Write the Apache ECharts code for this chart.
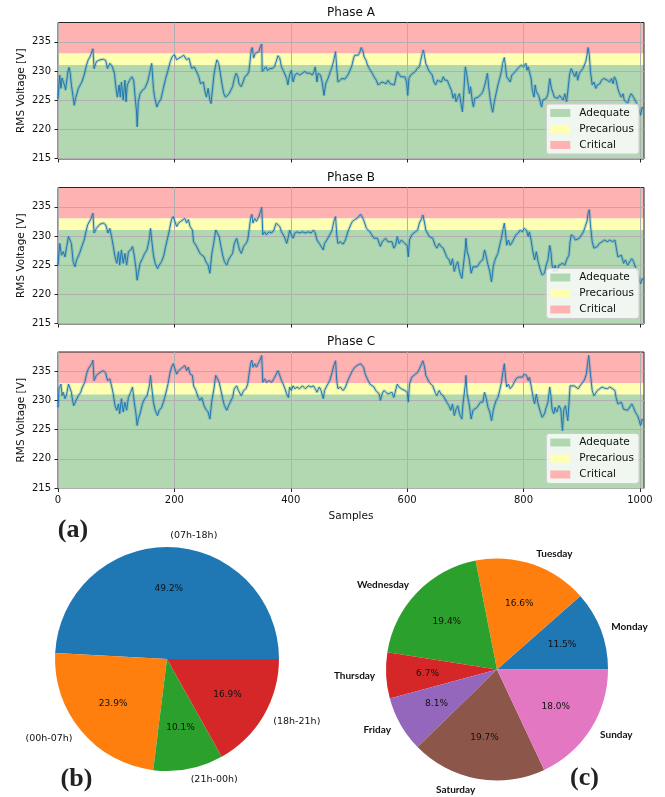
<!DOCTYPE html>
<html><head><meta charset="utf-8">
<script src="https://cdn.jsdelivr.net/npm/echarts@6/dist/echarts.min.js"></script>
<style>html,body{margin:0;padding:0;background:#fff}#c{width:665px;height:797px}</style>
</head><body><div id="c"></div>
<script>
const phaseTitles = ['Phase A', 'Phase B', 'Phase C'];
const phaseA = [[0,225.2],[3,229.3],[5,227.0],[7,228.8],[11,227.6],[13,226.7],[17,229.9],[19,230.6],[21,229.6],[23,227.6],[26,225.5],[28,224.1],[30,225.2],[35,227.0],[41,228.1],[45,229.3],[49,231.0],[52,231.9],[55,232.4],[58,232.2],[60,233.8],[62,230.4],[66,231.6],[72,231.9],[78,232.0],[82,231.8],[85,230.4],[89,231.3],[93,230.8],[97,229.6],[99,227.6],[102,225.5],[105,227.6],[107,225.5],[109,228.1],[112,225.0],[115,228.4],[117,224.7],[119,227.6],[123,228.4],[127,229.0],[130,228.4],[132,226.1],[135,223.0],[136,220.4],[138,224.7],[141,226.1],[145,226.7],[149,227.0],[154,228.1],[158,229.9],[161,231.3],[162,229.9],[164,227.0],[166,225.5],[170,223.8],[172,224.4],[177,225.2],[181,227.0],[185,228.7],[189,230.1],[193,231.6],[196,232.4],[200,232.8],[204,231.9],[208,232.2],[212,232.4],[216,232.7],[219,232.8],[221,231.9],[225,232.2],[228,231.0],[230,230.4],[234,230.7],[237,230.1],[242,229.0],[245,227.8],[247,227.6],[250,228.1],[252,226.7],[255,225.5],[258,227.0],[261,225.0],[263,224.4],[265,226.4],[268,229.3],[271,231.0],[273,231.9],[276,231.3],[279,229.6],[282,227.6],[285,226.1],[288,225.5],[291,225.3],[294,226.1],[297,226.4],[300,227.3],[303,228.7],[306,229.6],[309,229.0],[311,227.8],[315,227.3],[318,228.1],[321,229.0],[325,229.3],[328,229.9],[330,231.6],[332,233.6],[334,234.0],[336,232.2],[339,233.0],[342,232.7],[345,233.3],[348,234.2],[350,234.6],[351,229.9],[354,230.1],[357,230.7],[360,230.1],[364,230.4],[368,230.4],[372,230.7],[375,231.6],[378,232.6],[381,232.2],[384,230.7],[387,230.1],[390,229.9],[393,228.7],[395,227.6],[398,229.3],[401,230.1],[404,228.1],[407,229.3],[411,229.6],[415,229.3],[420,229.6],[424,229.9],[428,229.6],[433,229.6],[437,229.3],[440,229.9],[442,230.7],[445,228.1],[447,229.6],[451,229.3],[454,228.1],[457,225.8],[460,227.8],[464,228.7],[468,229.9],[471,230.7],[474,231.9],[477,233.3],[479,230.4],[481,228.1],[484,228.4],[488,228.7],[493,228.6],[498,229.3],[501,229.9],[505,230.9],[508,232.2],[510,232.7],[513,233.0],[516,232.7],[519,233.3],[521,234.0],[524,233.4],[526,232.4],[529,231.9],[532,231.0],[535,230.4],[538,230.1],[540,229.6],[543,229.0],[547,228.4],[550,227.6],[553,227.3],[557,228.1],[560,228.4],[564,227.8],[567,228.4],[571,227.8],[574,227.8],[578,227.6],[581,227.3],[583,229.9],[586,230.1],[589,229.0],[592,229.3],[596,229.0],[599,228.1],[601,225.8],[603,228.7],[606,229.3],[610,229.6],[614,229.9],[617,230.4],[621,230.7],[623,231.6],[626,233.0],[628,233.6],[630,232.4],[632,231.3],[635,231.6],[637,230.1],[640,229.9],[643,229.3],[646,228.1],[649,227.6],[652,228.4],[655,228.7],[659,228.1],[662,229.0],[665,228.4],[669,228.4],[672,227.6],[676,226.7],[679,225.3],[682,226.1],[684,224.7],[687,225.5],[690,226.1],[693,224.1],[695,223.0],[697,225.8],[699,229.3],[700,230.7],[702,229.6],[705,227.6],[707,226.1],[709,227.3],[712,224.7],[714,223.8],[716,225.3],[719,225.0],[722,225.5],[725,225.8],[728,226.1],[731,226.7],[734,227.8],[736,227.6],[738,229.6],[740,227.3],[743,225.0],[745,223.8],[747,222.9],[750,224.8],[753,226.2],[756,227.6],[759,228.7],[762,229.9],[764,231.3],[767,232.3],[769,230.7],[771,229.0],[774,229.3],[777,228.1],[780,229.3],[783,229.6],[786,229.9],[790,230.4],[793,230.7],[796,231.0],[800,230.7],[804,231.3],[806,230.1],[808,230.7],[810,229.9],[813,228.7],[815,226.7],[818,225.5],[820,227.6],[822,226.4],[824,226.1],[826,225.8],[829,225.5],[831,223.8],[833,225.0],[836,224.7],[839,225.3],[842,226.1],[845,228.7],[848,227.0],[851,226.1],[853,225.5],[856,225.8],[859,225.3],[862,225.8],[865,225.5],[868,225.0],[871,226.1],[874,224.7],[876,226.4],[879,229.3],[882,230.4],[885,230.1],[888,229.0],[891,229.9],[893,228.4],[896,229.6],[899,229.9],[902,230.4],[905,230.7],[907,231.6],[909,232.7],[911,234.0],[913,232.7],[915,229.9],[918,227.6],[921,228.1],[924,227.0],[927,227.6],[931,227.8],[934,228.4],[938,228.7],[941,228.4],[944,228.4],[948,228.1],[951,228.7],[954,227.8],[956,229.0],[959,228.4],[962,227.0],[965,226.1],[968,225.5],[971,226.1],[973,225.0],[976,225.3],[979,224.4],[982,225.5],[985,226.1],[987,225.8],[990,225.3],[993,224.7],[996,224.1],[999,223.2],[1001,222.4],[1004,223.8],[1006,223.5]];
const phaseB = [[0,225.0],[3,228.7],[6,226.7],[9,227.3],[12,226.4],[15,228.2],[18,229.9],[21,230.2],[23,228.7],[26,225.6],[29,224.7],[32,225.9],[37,227.0],[41,228.2],[45,229.3],[48,230.7],[51,231.9],[54,232.2],[57,233.0],[60,233.9],[62,230.5],[66,231.3],[72,232.0],[78,232.2],[82,231.9],[86,230.5],[89,231.3],[92,229.9],[95,228.2],[98,226.4],[101,225.3],[104,227.3],[106,225.0],[109,227.6],[112,225.3],[115,227.0],[118,225.0],[121,227.3],[125,227.6],[128,228.2],[131,226.7],[134,224.4],[136,222.4],[138,223.6],[141,225.3],[145,226.1],[149,227.0],[153,227.6],[157,229.6],[159,231.3],[161,229.3],[164,226.7],[167,225.3],[171,224.4],[174,225.0],[178,225.6],[182,226.7],[185,228.2],[189,229.9],[192,231.3],[195,232.8],[198,233.3],[201,233.0],[204,231.6],[207,232.2],[211,232.5],[214,232.2],[218,233.0],[221,232.2],[224,232.8],[227,231.6],[231,231.0],[233,229.0],[237,228.4],[241,227.6],[244,227.0],[247,227.3],[251,226.4],[254,225.6],[258,225.0],[261,223.6],[264,226.7],[268,229.0],[271,231.0],[274,231.3],[277,229.9],[280,228.2],[283,226.7],[286,225.6],[290,225.0],[293,225.9],[296,226.4],[300,227.0],[303,228.7],[307,229.6],[310,228.4],[312,227.6],[315,227.0],[319,228.2],[323,228.7],[326,229.3],[328,230.7],[331,233.0],[333,233.7],[335,232.2],[338,233.0],[341,232.5],[345,233.3],[348,234.2],[350,234.9],[352,230.2],[355,230.7],[358,230.2],[363,230.7],[367,230.5],[371,231.0],[375,232.2],[378,232.5],[381,231.6],[384,230.7],[387,230.2],[390,229.6],[393,228.7],[396,229.9],[398,231.0],[401,230.2],[404,229.6],[407,230.5],[411,230.7],[415,230.5],[420,230.7],[425,230.5],[430,230.7],[435,230.5],[439,231.0],[442,230.5],[445,229.3],[449,228.7],[452,229.0],[456,227.6],[458,228.7],[462,229.3],[467,230.2],[471,231.0],[474,232.5],[477,233.3],[479,230.2],[481,228.7],[485,229.0],[490,228.6],[494,229.3],[498,230.7],[503,231.9],[506,232.5],[510,232.8],[514,233.0],[517,233.0],[520,233.7],[522,233.9],[525,232.8],[528,231.9],[530,231.3],[533,231.0],[536,230.7],[539,230.2],[543,229.6],[546,229.3],[549,229.6],[552,228.7],[554,228.2],[557,229.0],[560,229.3],[563,229.6],[567,229.0],[570,228.7],[574,229.0],[577,227.9],[580,228.4],[583,229.9],[586,228.7],[590,229.3],[593,229.0],[596,228.7],[600,228.4],[602,226.4],[604,229.3],[608,230.2],[611,230.5],[614,230.7],[618,231.0],[621,232.2],[625,233.0],[627,233.6],[630,232.2],[632,231.0],[635,231.3],[638,229.9],[641,230.2],[644,229.6],[648,228.4],[651,227.9],[655,228.7],[658,228.2],[662,227.9],[665,228.2],[668,226.4],[672,225.9],[675,225.0],[678,226.1],[681,223.9],[684,225.0],[687,225.6],[690,223.9],[694,222.7],[696,224.4],[700,227.9],[701,229.6],[703,227.3],[706,226.4],[708,225.0],[710,223.6],[713,224.7],[716,224.4],[720,224.7],[723,225.0],[726,225.6],[730,225.9],[733,227.6],[736,226.4],[739,225.0],[742,223.9],[745,222.1],[748,224.7],[750,225.6],[753,226.4],[756,227.0],[759,228.4],[762,229.6],[765,231.3],[767,232.2],[769,230.5],[771,228.4],[774,229.3],[777,228.4],[781,229.0],[784,229.6],[787,230.2],[791,230.5],[794,231.0],[798,230.7],[801,231.3],[805,231.0],[808,229.9],[810,230.7],[813,229.3],[816,227.3],[819,225.9],[822,227.3],[825,225.6],[829,224.1],[832,223.3],[836,223.6],[839,225.0],[842,225.9],[845,228.4],[847,227.3],[849,225.0],[852,223.9],[854,225.0],[857,223.9],[861,225.0],[864,224.7],[867,225.3],[871,225.0],[874,225.9],[878,226.7],[880,229.0],[882,230.2],[886,229.9],[889,229.3],[892,229.0],[896,229.6],[899,229.9],[903,230.7],[906,231.6],[909,232.5],[911,233.9],[913,234.5],[915,231.9],[918,229.0],[921,227.9],[924,227.6],[927,228.2],[930,228.7],[935,229.0],[939,229.3],[944,229.0],[948,229.3],[953,229.0],[957,229.3],[959,228.2],[962,226.4],[965,226.1],[968,226.7],[972,225.3],[975,225.9],[979,225.0],[982,225.0],[986,226.1],[989,225.6],[992,224.7],[996,223.9],[999,222.4],[1001,221.8],[1004,222.7],[1006,222.4]];
const phaseC = [[0,228.8],[2,232.0],[5,232.8],[7,230.8],[9,231.4],[12,230.3],[15,231.1],[18,232.8],[21,233.1],[23,231.4],[25,230.0],[27,229.1],[31,230.0],[35,230.8],[39,231.4],[42,232.3],[46,233.1],[49,234.5],[52,235.4],[55,235.7],[58,236.3],[60,236.9],[62,233.4],[66,234.3],[72,234.8],[78,235.1],[82,234.7],[85,233.4],[89,233.7],[92,232.5],[95,231.1],[98,229.1],[101,228.3],[104,229.4],[106,227.7],[109,230.3],[112,228.0],[115,229.7],[118,228.3],[121,230.5],[125,231.4],[128,232.3],[131,229.7],[134,227.7],[136,225.7],[138,226.8],[141,227.7],[145,229.4],[149,230.3],[153,230.8],[157,232.5],[159,234.3],[161,232.3],[164,229.7],[167,228.3],[171,227.4],[174,228.3],[178,228.8],[182,230.0],[185,231.1],[189,232.8],[192,234.5],[195,235.7],[198,236.3],[201,235.4],[204,234.5],[207,235.1],[211,235.4],[214,235.1],[218,236.0],[221,235.1],[224,235.7],[227,234.5],[231,234.3],[233,232.5],[237,231.7],[241,230.5],[244,230.0],[247,230.5],[251,229.1],[254,228.5],[258,228.0],[261,226.8],[264,229.7],[268,232.0],[271,234.3],[274,234.5],[277,233.1],[280,231.7],[283,230.3],[286,229.1],[290,228.3],[293,229.1],[296,229.7],[300,230.5],[303,232.0],[307,232.5],[310,231.7],[312,231.4],[315,230.8],[319,231.7],[323,232.0],[326,232.8],[328,234.3],[331,236.3],[333,236.9],[335,235.7],[338,236.3],[341,235.7],[345,236.5],[348,237.1],[350,237.7],[352,233.1],[355,233.7],[358,233.1],[363,233.4],[367,233.1],[371,233.7],[375,234.5],[378,235.1],[381,234.3],[384,233.4],[387,232.8],[390,232.0],[393,231.1],[396,230.5],[398,232.3],[401,231.7],[404,232.5],[407,232.0],[411,232.3],[415,232.0],[420,232.5],[425,232.0],[430,232.5],[435,232.3],[439,232.5],[442,232.0],[445,231.4],[449,232.3],[452,231.7],[456,230.3],[458,231.7],[462,232.5],[467,233.4],[471,234.8],[474,236.0],[477,236.8],[479,233.4],[481,232.0],[485,232.3],[490,231.7],[494,232.3],[498,233.4],[503,234.5],[506,235.1],[510,235.7],[514,236.0],[517,236.0],[520,236.3],[522,236.5],[525,235.7],[528,234.5],[530,234.0],[533,233.4],[536,232.8],[539,232.5],[543,232.3],[546,231.7],[549,232.0],[552,231.1],[554,230.0],[557,231.1],[560,231.7],[563,231.4],[567,231.1],[570,231.1],[574,231.4],[577,230.5],[580,230.8],[583,232.8],[586,232.3],[590,232.0],[593,232.3],[596,231.7],[600,231.4],[602,229.7],[604,232.8],[608,234.0],[611,234.3],[614,234.5],[618,234.8],[621,235.4],[625,236.3],[627,236.8],[630,235.7],[632,234.3],[635,234.5],[638,233.1],[641,232.8],[644,232.5],[648,231.4],[651,230.8],[655,231.7],[658,231.1],[662,230.8],[665,231.1],[668,229.7],[672,229.1],[675,228.3],[678,229.4],[681,227.4],[684,228.5],[687,229.1],[690,227.7],[694,226.8],[696,229.4],[700,232.8],[701,234.3],[703,231.1],[706,229.7],[708,228.3],[710,226.8],[713,228.3],[716,228.5],[720,228.8],[723,229.1],[726,229.7],[730,229.7],[733,231.4],[736,230.3],[739,228.8],[742,228.0],[745,226.5],[748,228.3],[750,229.1],[753,230.0],[756,230.5],[759,231.7],[762,233.1],[765,235.1],[767,236.3],[769,234.0],[771,232.3],[774,232.8],[777,232.0],[781,232.5],[784,233.1],[787,233.7],[791,234.0],[794,234.3],[798,234.0],[801,234.5],[805,234.3],[808,233.4],[810,234.0],[813,232.5],[816,230.8],[819,229.4],[822,231.1],[825,229.4],[829,228.0],[832,227.1],[836,227.7],[839,228.8],[842,229.7],[845,232.3],[847,230.8],[849,228.5],[852,227.7],[854,228.8],[857,228.0],[861,229.1],[864,228.5],[867,224.8],[869,228.3],[872,229.1],[876,226.5],[878,229.4],[880,232.5],[883,232.8],[887,232.5],[890,232.3],[894,232.0],[897,232.5],[900,232.8],[904,233.4],[908,234.5],[910,236.3],[912,237.7],[915,234.5],[918,231.7],[921,230.8],[924,231.1],[927,231.7],[930,232.0],[935,232.3],[939,232.1],[944,232.0],[948,232.3],[953,232.0],[957,231.7],[959,230.5],[962,229.4],[965,229.1],[968,229.7],[972,228.5],[975,228.8],[979,228.3],[982,228.5],[986,229.4],[989,228.8],[992,228.0],[996,227.4],[999,226.5],[1001,225.7],[1004,226.8],[1006,226.5]];
const yTicks = [215, 220, 225, 230, 235];
const xTicks = [0, 200, 400, 600, 800, 1000];
const bandNames = ['Adequate', 'Precarious', 'Critical'];
const adequateTop = 231;
const precariousTop = 233;
const hourLabels = ['(07h-18h)', '(00h-07h)', '(21h-00h)', '(18h-21h)'];
const hourValues = [49.2, 23.9, 10.1, 16.9];
const dayLabels = ['Monday', 'Tuesday', 'Wednesday', 'Thursday', 'Friday', 'Saturday', 'Sunday'];
const dayValues = [11.5, 16.6, 19.4, 6.7, 8.1, 19.7, 18.0];

const phases = [phaseA, phaseB, phaseC];
const Y_MIN = 214.9, Y_MAX = 238.3, X_MIN = 0, X_MAX = 1007;
const gridTops = [22.5, 187.5, 352];
const legendTops = [104, 268.5, 433.5];
const GRID_H = 136.5;
const bandColors = ['#b2d8b2', '#ffffb2', '#ffb2b2'];
const tab10 = ['#1f77b4', '#ff7f0e', '#2ca02c', '#d62728', '#9467bd', '#8c564b', '#e377c2'];
const FONT = 'DejaVu Sans';

const chart = echarts.init(document.getElementById('c'), null, {renderer: 'canvas'});
const grid = [], xAxis = [], yAxis = [], series = [], legend = [], graphics = [];

phases.forEach((data, i) => {
  grid.push({left: 58, top: gridTops[i], width: 586, height: GRID_H, show: true,
    borderColor: '#262626', borderWidth: 1, backgroundColor: 'transparent'});
  xAxis.push({gridIndex: i, type: 'value', min: X_MIN, max: X_MAX,
    axisLine: {show: false},
    axisTick: {show: true, length: 3.5, lineStyle: {color: '#262626', width: 1}, customValues: xTicks},
    axisLabel: {show: i === 2, customValues: xTicks, fontSize: 10, color: '#111', fontFamily: FONT, margin: 7,
      formatter: v => String(v)},
    splitLine: {show: true, lineStyle: {color: '#b0b0b0', width: 1}},
    name: i === 2 ? 'Samples' : '', nameLocation: 'middle', nameGap: 22, nameMoveOverlap: false,
    nameTextStyle: {fontSize: 10.5, color: '#111', fontFamily: FONT}});
  yAxis.push({gridIndex: i, type: 'value', min: Y_MIN, max: Y_MAX,
    axisLine: {show: false},
    axisTick: {show: true, length: 3.5, lineStyle: {color: '#262626', width: 1}, customValues: yTicks},
    axisLabel: {customValues: yTicks, fontSize: 10, color: '#111', fontFamily: FONT, margin: 7,
      formatter: v => String(v)},
    splitLine: {show: true, lineStyle: {color: '#b0b0b0', width: 1}},
    name: 'RMS Voltage [V]', nameLocation: 'middle', nameRotate: 90, nameGap: 31, nameMoveOverlap: false,
    nameTextStyle: {fontSize: 10.5, color: '#111', fontFamily: FONT}});
  series.push({type: 'line', name: 'Critical', xAxisIndex: i, yAxisIndex: i, z: -3, silent: true,
    data: [[X_MIN, precariousTop], [X_MAX, precariousTop]], symbol: 'none', color: bandColors[2],
    lineStyle: {width: 0}, itemStyle: {color: bandColors[2]}, areaStyle: {color: bandColors[2], opacity: 1, origin: 'end'}});
  series.push({type: 'line', name: 'Precarious', xAxisIndex: i, yAxisIndex: i, z: -3, silent: true,
    data: [[X_MIN, precariousTop], [X_MAX, precariousTop]], symbol: 'none', color: bandColors[1],
    lineStyle: {width: 0}, itemStyle: {color: bandColors[1]}, areaStyle: {color: bandColors[1], opacity: 1, origin: 'start'}});
  series.push({type: 'line', name: 'Adequate', xAxisIndex: i, yAxisIndex: i, z: -2, silent: true,
    data: [[X_MIN, adequateTop], [X_MAX, adequateTop]], symbol: 'none', color: bandColors[0],
    lineStyle: {width: 0}, itemStyle: {color: bandColors[0]}, areaStyle: {color: bandColors[0], opacity: 1, origin: 'start'}});
  series.push({type: 'line', name: phaseTitles[i] + ' env', xAxisIndex: i, yAxisIndex: i, z: 2, silent: true,
    data: data, symbol: 'none', lineStyle: {color: 'rgba(31,119,180,0.25)', width: 3.2}});
  series.push({type: 'line', name: phaseTitles[i], xAxisIndex: i, yAxisIndex: i, z: 3, silent: true,
    data: data, symbol: 'none', lineStyle: {color: '#1f77b4', width: 1}});
  legend.push({show: true, orient: 'vertical', right: 26, top: legendTops[i], selectedMode: false,
    data: bandNames.map((n, k) => ({name: n, icon: 'rect', itemStyle: {color: bandColors[k], borderWidth: 0}})),
    itemWidth: 20, itemHeight: 8, itemGap: 4, padding: [3, 5, 3, 4],
    backgroundColor: 'rgba(255,255,255,0.8)', borderColor: '#cccccc', borderWidth: 1, borderRadius: 3,
    textStyle: {fontSize: 10.5, color: '#111', fontFamily: FONT, lineHeight: 12, padding: [0, 0, 0, 4]}});
  graphics.push({type: 'text', x: 351, y: gridTops[i] - 10, style: {text: phaseTitles[i], fill: '#111',
    font: '12px "DejaVu Sans"', textAlign: 'center', textVerticalAlign: 'middle'}});
});

function pieSeries(labels, values, colors, center, r, labelFont, pctFont) {
  const data = labels.map((n, k) => ({name: n, value: values[k], itemStyle: {color: colors[k]}}));
  return [
    {type: 'pie', center: center, radius: r, startAngle: 0, clockwise: false, avoidLabelOverlap: false,
      silent: true, data: data, itemStyle: {borderWidth: 0},
      label: Object.assign({show: true, position: 'outside', formatter: '{b}', distanceToLabelLine: 0, color: '#111'}, labelFont),
      labelLine: {show: false, length: r * 0.1, length2: 0}, emphasis: {disabled: true}},
    {type: 'pie', center: center, radius: [r * 0.2, r], startAngle: 0, clockwise: false, avoidLabelOverlap: false,
      silent: true, data: labels.map((n, k) => ({name: n + ' pct', value: values[k]})),
      itemStyle: {color: 'rgba(0,0,0,0)', borderWidth: 0},
      label: Object.assign({show: true, position: 'inside', color: '#111',
        formatter: p => p.value.toFixed(1) + '%'}, pctFont),
      labelLine: {show: false}, emphasis: {disabled: true}}
  ];
}
series.push(...pieSeries(hourLabels, hourValues, tab10, [167, 659], 112,
  {fontSize: 9.5, fontFamily: FONT}, {fontSize: 9, fontFamily: FONT}));
series.push(...pieSeries(dayLabels, dayValues, tab10, [497, 669.5], 111,
  {fontSize: 10, fontFamily: 'Lato', fontWeight: 'bold'}, {fontSize: 9, fontFamily: FONT}));

[['(a)', 73, 530.5], ['(b)', 76.5, 779], ['(c)', 584.5, 778.5]].forEach(t => {
  graphics.push({type: 'text', x: t[1], y: t[2], style: {text: t[0], fill: '#222',
    font: 'bold 26px "Liberation Serif"', textAlign: 'center', textVerticalAlign: 'middle'}});
});

chart.setOption({
  animation: false,
  backgroundColor: '#ffffff',
  grid: grid, xAxis: xAxis, yAxis: yAxis, legend: legend, series: series,
  graphic: graphics
});
</script></body></html>
